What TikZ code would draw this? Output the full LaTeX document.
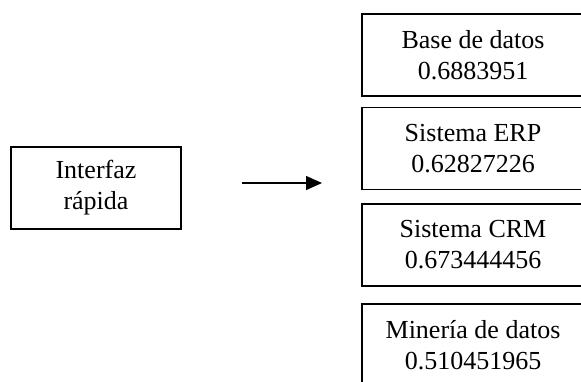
\documentclass[tikz,border=0pt]{standalone}
\usepackage{fontspec}
\setmainfont{Liberation Serif}
\usetikzlibrary{arrows.meta}
\begin{document}
\begin{tikzpicture}[x=1pt,y=-1pt,
  box/.style={draw=black,line width=1.3pt,fill=white,inner sep=0pt,align=center,
    font=\fontsize{26}{31}\selectfont},
  lbox/.style={box,minimum width=170pt,minimum height=82pt},
  rbox/.style={box,minimum width=222pt,minimum height=82pt},
  arr/.style={line width=1.3pt,-{Triangle[length=16pt,width=14pt]}}]
\useasboundingbox (0,0) rectangle (581,381);
\clip (0,0) rectangle (581,381);
\node[lbox] (iface) at (96,188) {Interfaz\\rápida};
\node[rbox] (bd) at (473,55) {Base de datos\\0.6883951};
\node[rbox] (erp) at (473,148.5) {Sistema ERP\\0.62827226};
\node[rbox] (crm) at (473,245) {Sistema CRM\\0.673444456};
\node[rbox] (min) at (473,345) {Minería de datos\\0.510451965};
\coordinate (as) at (242,183);
\coordinate (ae) at (322,183);
\draw[arr] (as) -- (ae);
\end{tikzpicture}
\end{document}
